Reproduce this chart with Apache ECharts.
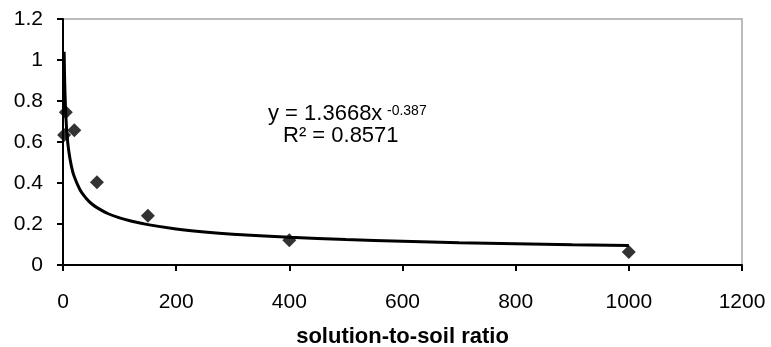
<!DOCTYPE html>
<html>
<head>
<meta charset="utf-8">
<script src="https://cdn.jsdelivr.net/npm/echarts@6/dist/echarts.min.js"></script>
<style>html,body{margin:0;padding:0;background:#fff}#c{width:771px;height:347px}</style>
</head>
<body>
<div id="c"></div>
<script>
// measured points
var ratioX = [2, 5, 20, 60, 150, 400, 1000];
var valueY = [0.634, 0.745, 0.657, 0.404, 0.24, 0.121, 0.064];
// power trendline
var trendX = [2, 3, 4, 5, 7, 10, 15, 20, 30, 40, 50, 60, 80, 100, 120, 150, 200, 250, 300, 400, 500, 600, 700, 800, 900, 1000];
var trendY = [1.04, 0.89, 0.80, 0.73, 0.64, 0.56, 0.48, 0.43, 0.367, 0.328, 0.30, 0.28, 0.25, 0.23, 0.215, 0.197, 0.176, 0.161, 0.15, 0.135, 0.124, 0.116, 0.109, 0.104, 0.099, 0.095];
var xTicks = [0, 200, 400, 600, 800, 1000, 1200];
var yTicks = [0, 0.2, 0.4, 0.6, 0.8, 1, 1.2];
var xTitle = 'solution-to-soil ratio';
var eqMain = 'y = 1.3668x';
var eqExp = '-0.387';
var eqR2 = 'R\u00b2 = 0.8571';

var chart = echarts.init(document.getElementById('c'), null, {renderer: 'canvas'});
var font = 'Arial, "Liberation Sans", sans-serif';
chart.setOption({
  animation: false,
  backgroundColor: '#fff',
  grid: {left: 63, right: 29, top: 19, bottom: 82, outerBoundsMode: 'none', containLabel: false,
    show: true, borderColor: '#a6a6a6', borderWidth: 1.5, backgroundColor: 'transparent'},
  xAxis: {
    type: 'value', min: xTicks[0], max: xTicks[xTicks.length - 1], interval: 200,
    axisLine: {show: true, onZero: false, lineStyle: {color: '#000', width: 2}},
    axisTick: {show: true, inside: false, length: 6, lineStyle: {color: '#000', width: 2}},
    splitLine: {show: false},
    axisLabel: {fontSize: 21, color: '#000', fontFamily: font, margin: 27,
      formatter: function (v) { return String(v); }},
    name: xTitle, nameLocation: 'middle', nameGap: 61,
    nameTextStyle: {fontSize: 22, fontWeight: 'bold', color: '#000', fontFamily: font}
  },
  yAxis: {
    type: 'value', min: yTicks[0], max: yTicks[yTicks.length - 1], interval: 0.2,
    axisLine: {show: true, onZero: false, lineStyle: {color: '#000', width: 2}},
    axisTick: {show: true, inside: false, length: 6, lineStyle: {color: '#000', width: 2}},
    splitLine: {show: false},
    axisLabel: {fontSize: 21, color: '#000', fontFamily: font, margin: 20,
      formatter: function (v) { return String(Math.round(v * 10) / 10); }}
  },
  series: [
    {
      type: 'line', data: trendX.map(function (x, i) { return [x, trendY[i]]; }),
      smooth: 0.4, showSymbol: false, symbol: 'none',
      lineStyle: {color: '#000', width: 3}, z: 2
    },
    {
      type: 'scatter', data: ratioX.map(function (x, i) { return [x, valueY[i]]; }),
      symbol: 'diamond', symbolSize: 14,
      itemStyle: {color: '#000'}, z: 3
    }
  ],
  graphic: [
    {type: 'text', x: 268, y: 114, style: {text: eqMain, fontSize: 22, fontFamily: font, fill: '#000', align: 'left', verticalAlign: 'middle'}},
    {type: 'text', x: 387, y: 111, style: {text: eqExp, fontSize: 14, fontFamily: font, fill: '#000', align: 'left', verticalAlign: 'middle'}},
    {type: 'text', x: 283, y: 136, style: {text: eqR2, fontSize: 22, fontFamily: font, fill: '#000', align: 'left', verticalAlign: 'middle'}}
  ]
});
</script>
</body>
</html>
